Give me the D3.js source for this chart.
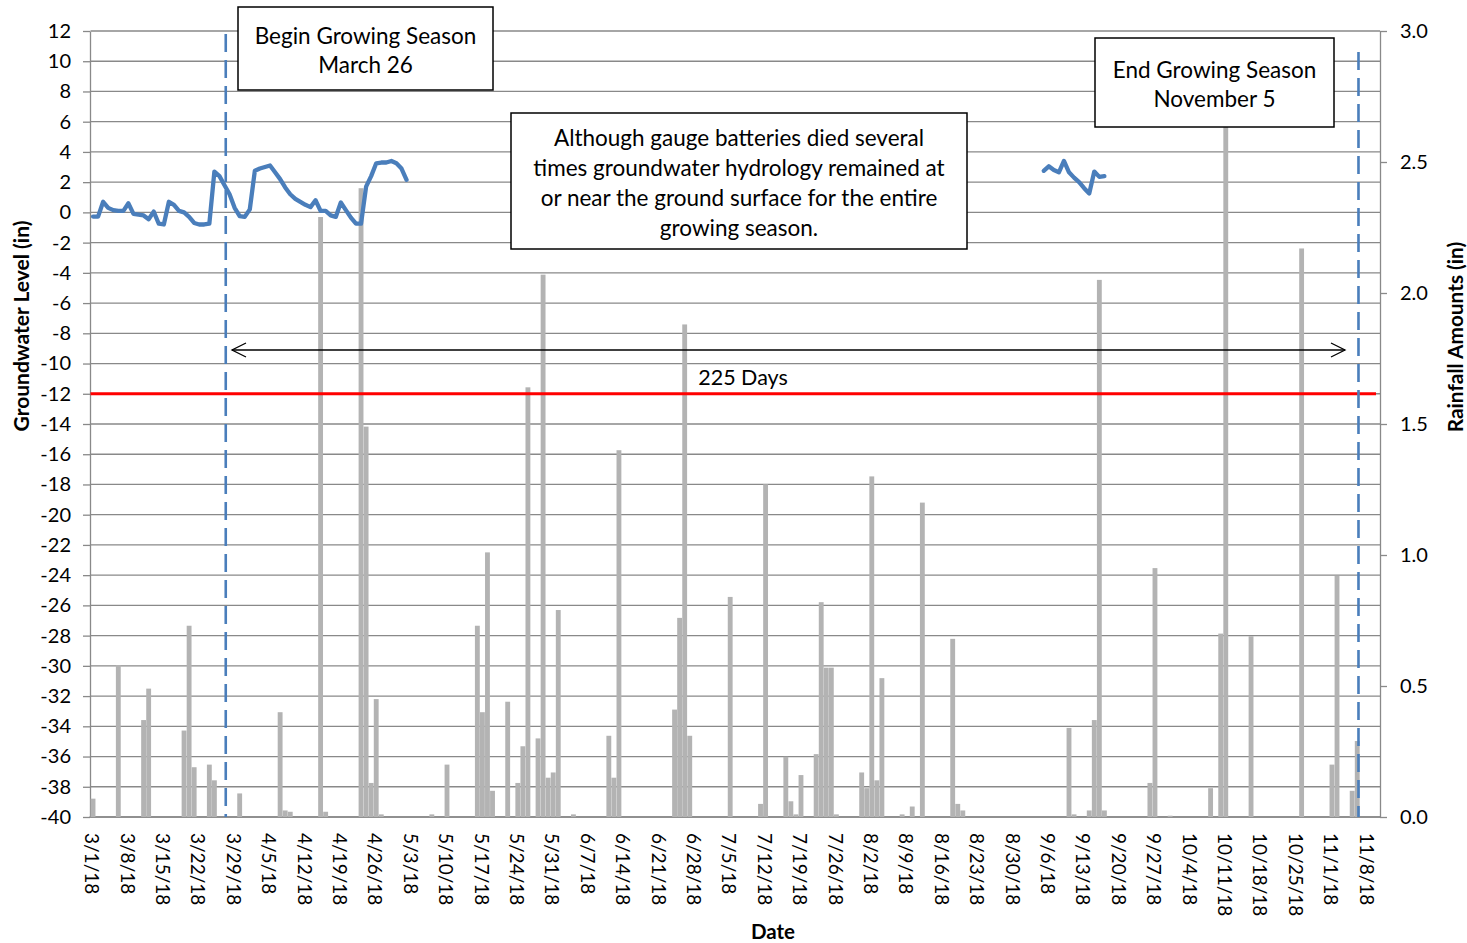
<!DOCTYPE html>
<html>
<head>
<meta charset="utf-8">
<script src="https://cdn.jsdelivr.net/npm/d3@7"></script>
<style>
  html, body { margin: 0; padding: 0; background: #fff; }
  svg { display: block; }
  text { font-family: Lato, "Open Sans", sans-serif; fill: #000; }
</style>
</head>
<body>
<svg id="chart" width="1467" height="943"></svg>
<script>
// ---------------- DATA ----------------
// Axis tick values
const gwTicks = d3.range(-40, 13, 2);               // left axis (in)
const rainTicks = [0, 0.5, 1.0, 1.5, 2.0, 2.5, 3.0]; // right axis (in)
const dateTickStart = "2018-03-01";                 // weekly date tick labels
const dateTickCount = 37;

// Daily rainfall (in)
const rainDates = [
  "2018-03-01","2018-03-06","2018-03-11","2018-03-12","2018-03-19","2018-03-20","2018-03-21",
  "2018-03-24","2018-03-25","2018-03-30","2018-04-07","2018-04-08","2018-04-09","2018-04-15",
  "2018-04-16","2018-04-23","2018-04-24","2018-04-25","2018-04-26","2018-04-27","2018-05-07",
  "2018-05-10","2018-05-16","2018-05-17","2018-05-18","2018-05-19","2018-05-22","2018-05-24",
  "2018-05-25","2018-05-26","2018-05-28","2018-05-29","2018-05-30","2018-05-31","2018-06-01",
  "2018-06-04","2018-06-11","2018-06-12","2018-06-13","2018-06-24","2018-06-25","2018-06-26",
  "2018-06-27","2018-07-05","2018-07-11","2018-07-12","2018-07-16","2018-07-17","2018-07-18",
  "2018-07-19","2018-07-22","2018-07-23","2018-07-24","2018-07-25","2018-07-26","2018-07-31",
  "2018-08-01","2018-08-02","2018-08-03","2018-08-04","2018-08-08","2018-08-10","2018-08-12",
  "2018-08-18","2018-08-19","2018-08-20","2018-09-10","2018-09-11","2018-09-14","2018-09-15",
  "2018-09-16","2018-09-17","2018-09-26","2018-09-27","2018-09-30","2018-10-08","2018-10-10",
  "2018-10-11","2018-10-16","2018-10-26","2018-11-01","2018-11-02","2018-11-05","2018-11-06"
];
const rainAmounts = [
  0.07, 0.58, 0.37, 0.49, 0.33, 0.73, 0.19,
  0.20, 0.14, 0.09, 0.40, 0.025, 0.02, 2.29,
  0.02, 2.40, 1.49, 0.13, 0.45, 0.01, 0.01,
  0.20, 0.73, 0.40, 1.01, 0.10, 0.44, 0.13,
  0.27, 1.64, 0.30, 2.07, 0.15, 0.17, 0.79,
  0.01, 0.31, 0.15, 1.40, 0.41, 0.76, 1.88,
  0.31, 0.84, 0.05, 1.27, 0.23, 0.06, 0.01,
  0.16, 0.24, 0.82, 0.57, 0.57, 0.01, 0.17,
  0.11, 1.30, 0.14, 0.53, 0.01, 0.04, 1.20,
  0.68, 0.05, 0.025, 0.34, 0.01, 0.025, 0.37,
  2.05, 0.025, 0.13, 0.95, 0.005, 0.11, 0.70,
  2.80, 0.69, 2.17, 0.20, 0.92, 0.10, 0.29
];

// Groundwater level (in), daily, two recorded periods
const gwSpringStart = "2018-03-01";
const gwSpring = [
  -0.28, -0.28, 0.70, 0.30, 0.15, 0.10, 0.10, 0.60, -0.10, -0.15,
  -0.20, -0.45, 0.05, -0.75, -0.80, 0.70, 0.50, 0.10, 0.00, -0.30,
  -0.70, -0.80, -0.80, -0.75, 2.70, 2.40, 1.80, 1.20, 0.30, -0.25,
  -0.30, 0.20, 2.75, 2.90, 3.00, 3.10, 2.65, 2.20, 1.65, 1.20,
  0.90, 0.70, 0.50, 0.35, 0.80, 0.10, 0.10, -0.20, -0.30, 0.65,
  0.15, -0.35, -0.75, -0.75, 1.70, 2.40, 3.25, 3.30, 3.30, 3.40,
  3.25, 2.90, 2.15
];
const gwFallStart = "2018-09-05";
const gwFall = [2.75, 3.05, 2.80, 2.65, 3.40, 2.65, 2.30, 2.00, 1.60, 1.25, 2.70, 2.35, 2.40];

// Annotations
const seasonStart = "2018-03-26";
const seasonEnd = "2018-11-05";
const thresholdLevel = -12;
const beginLabel = ["Begin Growing Season", "March 26"];
const endLabel = ["End Growing Season", "November 5"];
const noteLabel = ["Although gauge batteries died several",
                   "times groundwater hydrology remained at",
                   "or near the ground surface for the entire",
                   "growing season."];
const durationLabel = "225 Days";

// ---------------- CHART ----------------
(function () {
const parse = d3.utcParse("%Y-%m-%d");
const fmtTick = d => (d.getUTCMonth() + 1) + "/" + d.getUTCDate() + "/18";

const svg = d3.select("#chart");
const pLeft = 90.5, pRight = 1380, pTop = 31, pBottom = 817;

const x = d3.scaleUtc()
  .domain([d3.utcHour.offset(parse("2018-03-01"), -12), d3.utcHour.offset(parse("2018-11-10"), 12)])
  .range([pLeft, pRight]);
const slot = (pRight - pLeft) / 255;
const yL = d3.scaleLinear().domain([-40, 12]).range([pBottom, pTop]);
const yR = d3.scaleLinear().domain([0, 3]).range([pBottom, pTop]);

const gridColor = "#898989";

// Horizontal gridlines
svg.append("g").selectAll("line").data(gwTicks).join("line")
  .attr("x1", pLeft).attr("x2", pRight)
  .attr("y1", d => yL(d)).attr("y2", d => yL(d))
  .attr("stroke", gridColor).attr("stroke-width", 1.3);

// Left axis
const axL = svg.append("g").attr("transform", `translate(${pLeft - 0.5},0)`)
  .call(d3.axisLeft(yL).tickValues(gwTicks).tickFormat(d => String(d))
    .tickSize(7).tickSizeOuter(0).tickPadding(12));
axL.select(".domain").attr("stroke", gridColor).attr("stroke-width", 1.3);
axL.selectAll(".tick line").attr("stroke", gridColor).attr("stroke-width", 1.3);
axL.selectAll(".tick text").attr("font-size", 20).attr("font-family", "Lato").attr("fill", "#000");

// Right axis
const axR = svg.append("g").attr("transform", `translate(${pRight},0)`)
  .call(d3.axisRight(yR).tickValues(rainTicks).tickFormat(d3.format(".1f")).tickSize(7).tickSizeOuter(0).tickPadding(13));
axR.select(".domain").attr("stroke", gridColor).attr("stroke-width", 1.3);
axR.selectAll(".tick line").attr("stroke", gridColor).attr("stroke-width", 1.3);
axR.selectAll(".tick text").attr("font-size", 20).attr("font-family", "Lato").attr("fill", "#000");

// Bottom axis line
svg.append("line").attr("x1", pLeft - 1).attr("x2", pRight).attr("y1", pBottom).attr("y2", pBottom)
  .attr("stroke", gridColor).attr("stroke-width", 1.3);

// Rain bars
const rain = rainDates.map((d, i) => ({ date: parse(d), value: rainAmounts[i] }));
svg.append("g").selectAll("rect").data(rain).join("rect")
  .attr("x", d => x(d.date) - slot / 2 + 0.1)
  .attr("width", slot - 0.2)
  .attr("y", d => yR(d.value))
  .attr("height", d => pBottom - yR(d.value))
  .attr("fill", "#b3b3b3");

// Groundwater line
const line = d3.line().x(d => x(d.date)).y(d => yL(d.value)).curve(d3.curveLinear);
function series(start, vals) {
  const s = parse(start);
  return vals.map((v, i) => ({ date: d3.utcDay.offset(s, i), value: v }));
}
[series(gwSpringStart, gwSpring), series(gwFallStart, gwFall)].forEach(seg => {
  svg.append("path").datum(seg).attr("d", line)
    .attr("fill", "none").attr("stroke", "#4a7ebb").attr("stroke-width", 4.3)
    .attr("stroke-linejoin", "round").attr("stroke-linecap", "round");
});

// Threshold line
svg.append("line").attr("x1", pLeft).attr("x2", 1376)
  .attr("y1", yL(thresholdLevel)).attr("y2", yL(thresholdLevel))
  .attr("stroke", "#ff0000").attr("stroke-width", 3);

// Growing season dashed lines
const dashed = [{ d: seasonStart, y0: 34 }, { d: seasonEnd, y0: 52 }];
svg.append("g").selectAll("line").data(dashed).join("line")
  .attr("x1", d => x(parse(d.d)) + 6.3).attr("x2", d => x(parse(d.d)) + 6.3)
  .attr("y1", d => d.y0).attr("y2", pBottom)
  .attr("stroke", "#4a7ebb").attr("stroke-width", 2.6).attr("stroke-dasharray", "18,8");

// 225 days arrow
const ay = 350, ax0 = 232, ax1 = 1345;
const arrow = svg.append("g").attr("stroke", "#000").attr("stroke-width", 1.3).attr("fill", "none");
arrow.append("line").attr("x1", ax0).attr("x2", ax1).attr("y1", ay).attr("y2", ay);
arrow.append("path").attr("d", `M${ax0 + 14},${ay - 7} L${ax0},${ay} L${ax0 + 14},${ay + 7}`);
arrow.append("path").attr("d", `M${ax1 - 14},${ay - 7} L${ax1},${ay} L${ax1 - 14},${ay + 7}`);
svg.append("text").attr("x", 743).attr("y", 377).attr("text-anchor", "middle")
  .attr("dominant-baseline", "central").attr("font-size", 21.5).text(durationLabel);

// Text boxes
function box(x0, y0, w, h, lines, cy0, lh) {
  svg.append("rect").attr("x", x0).attr("y", y0).attr("width", w).attr("height", h)
    .attr("fill", "#fff").attr("stroke", "#000").attr("stroke-width", 1.5);
  svg.append("g").selectAll("text").data(lines).join("text")
    .attr("x", x0 + w / 2).attr("y", (d, i) => cy0 + i * lh)
    .attr("text-anchor", "middle").attr("dominant-baseline", "central")
    .attr("font-size", 22.5).text(d => d);
}
box(238, 7, 255, 83, beginLabel, 35, 29.5);
box(511, 113, 456, 136, noteLabel, 137, 30);
box(1095, 38, 239, 89, endLabel, 69, 29.5);

// X tick labels (rotated)
const dateTicks = d3.range(dateTickCount).map(i => d3.utcDay.offset(parse(dateTickStart), i * 7));
svg.append("g").selectAll("text").data(dateTicks).join("text")
  .attr("transform", d => `translate(${x(d) - 1},833) rotate(90)`)
  .attr("dy", "0.36em").attr("font-size", 19).text(fmtTick);

// Axis titles
svg.append("text").attr("transform", "translate(20,326) rotate(-90)")
  .attr("text-anchor", "middle").attr("dominant-baseline", "central")
  .attr("font-weight", "bold").attr("font-size", 21).text("Groundwater Level (in)");
svg.append("text").attr("transform", "translate(1454,337) rotate(-90)")
  .attr("text-anchor", "middle").attr("dominant-baseline", "central")
  .attr("font-weight", "bold").attr("font-size", 20.8).text("Rainfall Amounts (in)");
svg.append("text").attr("x", 773).attr("y", 931).attr("text-anchor", "middle")
  .attr("dominant-baseline", "central").attr("font-weight", "bold").attr("font-size", 20.5).text("Date");
})();
</script>
</body>
</html>
